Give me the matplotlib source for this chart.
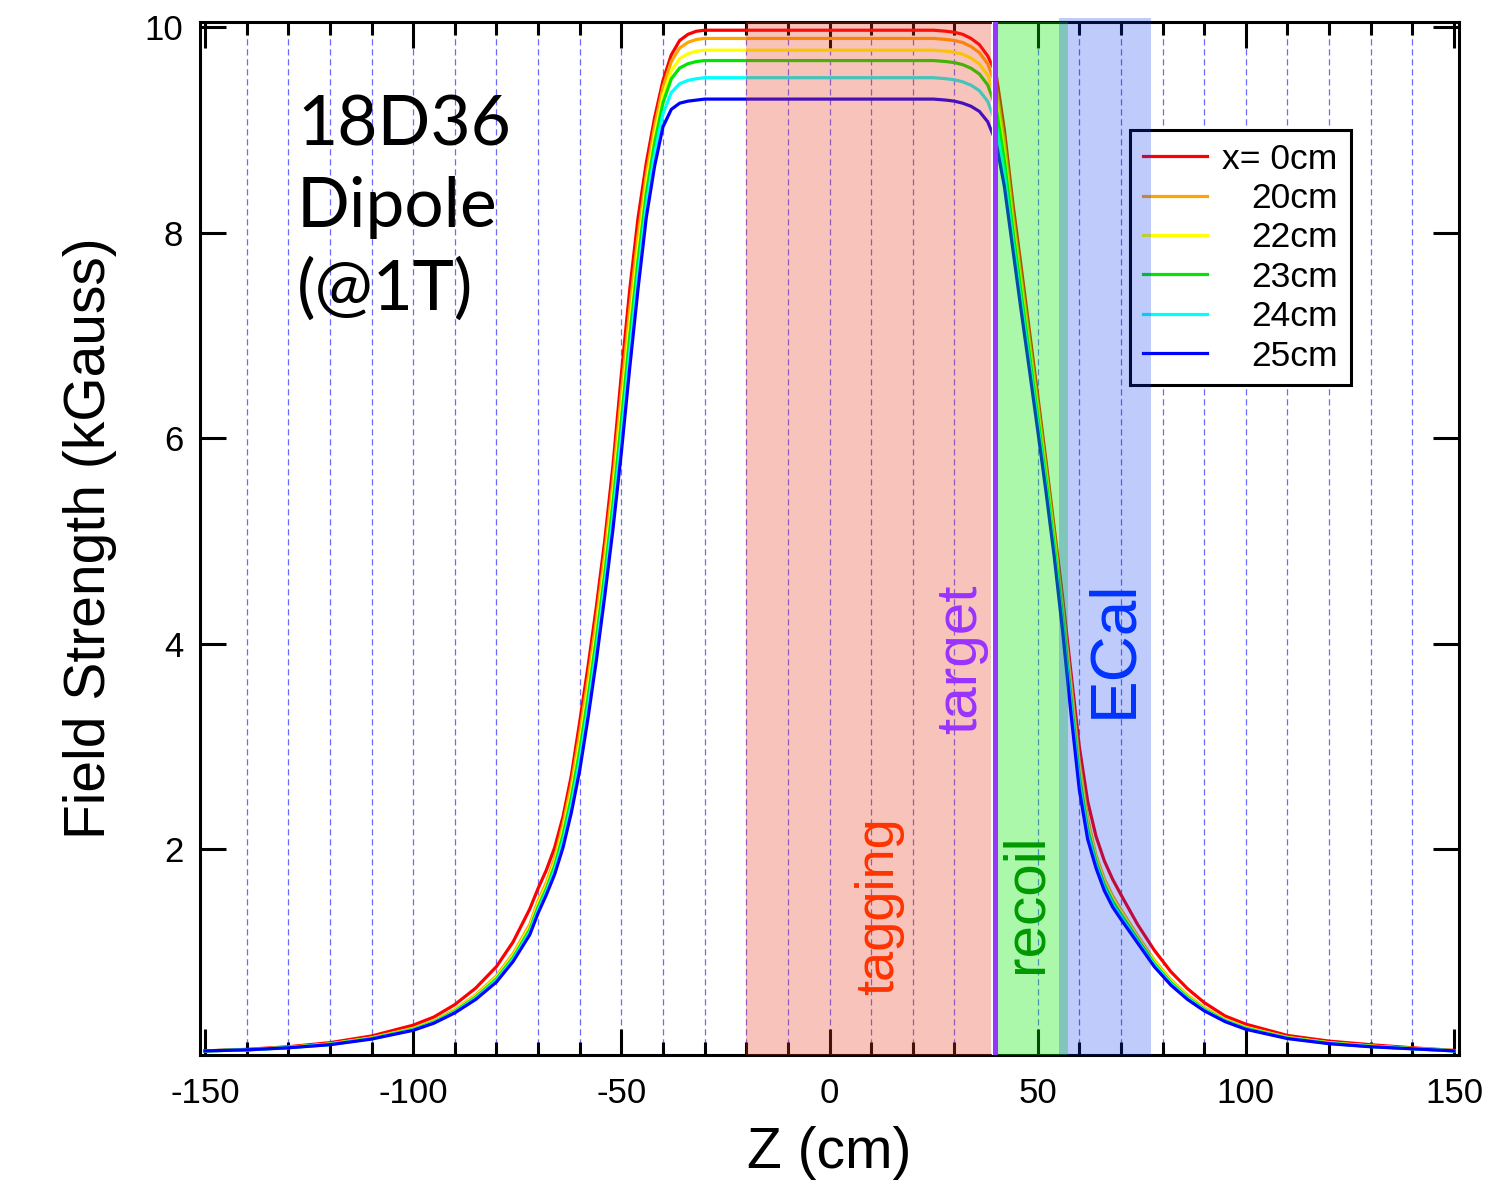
import matplotlib
matplotlib.use("Agg")
import matplotlib.pyplot as plt
from matplotlib.ticker import MultipleLocator, FixedLocator, NullLocator

plt.rcParams['font.family'] = ['Liberation Sans', 'DejaVu Sans']
plt.rcParams['axes.unicode_minus'] = False

# Longitudinal position along the beam line (cm)
z_cm = [-150, -140, -130, -120, -110, -100, -95, -90, -85, -80,
        -76, -72, -70, -68, -66, -64, -62, -60, -58, -56,
        -54, -52, -50, -48, -46, -44, -42, -40, -38, -36,
        -34, -32, -30, -25, -20, -10, 0, 10, 20, 25,
        28, 30, 32, 34, 36, 38, 40, 42, 44, 46,
        48, 50, 52, 54, 56, 58, 60, 62, 64, 66,
        68, 70, 74, 78, 82, 86, 90, 95, 100, 110,
        120, 130, 140, 150]

# Field strength (kGauss) at several transverse offsets x
field_x0 = [0.04, 0.055, 0.08, 0.12, 0.185, 0.29, 0.37, 0.49, 0.65, 0.86,
            1.10, 1.42, 1.62, 1.80, 2.02, 2.32, 2.72, 3.24, 3.78, 4.36,
            5.00, 5.74, 6.62, 7.44, 8.14, 8.68, 9.12, 9.48, 9.73, 9.87,
            9.93, 9.96, 9.97, 9.97, 9.97, 9.97, 9.97, 9.97, 9.97, 9.97,
            9.96, 9.95, 9.93, 9.89, 9.83, 9.72, 9.55, 9.00, 8.30, 7.68,
            7.05, 6.42, 5.78, 5.12, 4.45, 3.72, 3.00, 2.47, 2.13, 1.89,
            1.71, 1.56, 1.27, 1.02, 0.81, 0.645, 0.51, 0.38, 0.30, 0.19,
            0.135, 0.10, 0.07, 0.045]
field_x20 = [0.04, 0.05, 0.074, 0.108, 0.167, 0.26, 0.334, 0.442, 0.584, 0.77,
             0.986, 1.27, 1.50, 1.68, 1.916, 2.245, 2.63, 3.123, 3.655, 4.23,
             4.865, 5.585, 6.43, 7.25, 7.968, 8.563, 9.035, 9.413, 9.666, 9.797,
             9.852, 9.88, 9.89, 9.89, 9.89, 9.89, 9.89, 9.89, 9.89, 9.89,
             9.88, 9.87, 9.85, 9.811, 9.752, 9.643, 9.429, 8.879, 8.188, 7.573,
             6.955, 6.335, 5.705, 5.05, 4.368, 3.62, 2.853, 2.304, 1.944, 1.716,
             1.548, 1.416, 1.162, 0.924, 0.732, 0.582, 0.462, 0.347, 0.27, 0.172,
             0.12, 0.088, 0.064, 0.042]
field_x22 = [0.04, 0.05, 0.073, 0.106, 0.164, 0.255, 0.328, 0.434, 0.573, 0.755,
             0.967, 1.245, 1.469, 1.649, 1.877, 2.185, 2.558, 3.029, 3.555, 4.126,
             4.757, 5.461, 6.278, 7.098, 7.83, 8.468, 8.951, 9.332, 9.576, 9.693,
             9.742, 9.766, 9.776, 9.776, 9.776, 9.776, 9.776, 9.776, 9.776, 9.776,
             9.766, 9.756, 9.736, 9.699, 9.642, 9.534, 9.322, 8.78, 8.098, 7.487,
             6.879, 6.267, 5.645, 4.994, 4.302, 3.54, 2.782, 2.248, 1.913, 1.687,
             1.521, 1.392, 1.144, 0.908, 0.719, 0.572, 0.454, 0.342, 0.265, 0.169,
             0.118, 0.086, 0.063, 0.042]
field_x23 = [0.04, 0.05, 0.072, 0.104, 0.161, 0.25, 0.322, 0.426, 0.562, 0.74,
             0.948, 1.22, 1.44, 1.62, 1.843, 2.14, 2.504, 2.958, 3.48, 4.048,
             4.676, 5.368, 6.164, 6.984, 7.726, 8.383, 8.876, 9.264, 9.497, 9.602,
             9.644, 9.665, 9.675, 9.675, 9.675, 9.675, 9.675, 9.675, 9.675, 9.675,
             9.665, 9.655, 9.635, 9.60, 9.544, 9.438, 9.215, 8.698, 8.03, 7.422,
             6.822, 6.216, 5.60, 4.952, 4.252, 3.48, 2.719, 2.20, 1.882, 1.658,
             1.494, 1.368, 1.126, 0.892, 0.706, 0.561, 0.446, 0.336, 0.26, 0.166,
             0.115, 0.084, 0.062, 0.041]
field_x24 = [0.04, 0.05, 0.071, 0.102, 0.158, 0.245, 0.316, 0.418, 0.551, 0.725,
             0.929, 1.195, 1.409, 1.589, 1.802, 2.08, 2.432, 2.864, 3.38, 3.944,
             4.568, 5.244, 6.012, 6.832, 7.588, 8.267, 8.768, 9.156, 9.364, 9.449,
             9.482, 9.498, 9.508, 9.508, 9.508, 9.508, 9.508, 9.508, 9.508, 9.508,
             9.498, 9.488, 9.468, 9.435, 9.382, 9.278, 9.061, 8.577, 7.94, 7.336,
             6.746, 6.148, 5.54, 4.896, 4.186, 3.40, 2.651, 2.152, 1.851, 1.629,
             1.467, 1.344, 1.108, 0.876, 0.693, 0.551, 0.438, 0.331, 0.255, 0.163,
             0.113, 0.082, 0.061, 0.04]
field_x25 = [0.04, 0.05, 0.07, 0.10, 0.155, 0.24, 0.31, 0.41, 0.54, 0.71,
             0.91, 1.17, 1.38, 1.56, 1.76, 2.02, 2.36, 2.77, 3.28, 3.84,
             4.46, 5.12, 5.86, 6.68, 7.45, 8.15, 8.65, 9.03, 9.20, 9.26,
             9.28, 9.29, 9.30, 9.30, 9.30, 9.30, 9.30, 9.30, 9.30, 9.30,
             9.29, 9.28, 9.26, 9.23, 9.18, 9.08, 8.88, 8.45, 7.85, 7.25,
             6.67, 6.08, 5.48, 4.84, 4.12, 3.32, 2.58, 2.10, 1.82, 1.60,
             1.44, 1.32, 1.09, 0.86, 0.68, 0.54, 0.43, 0.325, 0.25, 0.16,
             0.11, 0.08, 0.06, 0.04]

series = [field_x0, field_x20, field_x22, field_x23, field_x24, field_x25]
series_labels = ['x= 0cm', '20cm', '22cm', '23cm', '24cm', '25cm']
series_colors = ['#ff0000', '#ffa500', '#ffff00', '#00e600', '#00ffff', '#0000ff']

# Detector regions along z (cm)
tagging_range = (-20.0, 38.8)
target_z = 39.7
recoil_range = (40.2, 57.3)
ecal_range = (55.1, 77.2)

fig = plt.figure(figsize=(15.07, 11.80), dpi=100)
ax = fig.add_axes([200 / 1507, 1 - 1055 / 1180, 1259 / 1507, 1033 / 1180])

# dashed guide lines every 10 cm
grid_z = list(range(-140, 141, 10))
ax.vlines(grid_z, 0, 1, transform=ax.get_xaxis_transform(),
          colors='#6a6aff', linewidths=0.9, linestyles=(0, (5, 3)), zorder=1)

for vals, lab, col in zip(series, series_labels, series_colors):
    ax.plot(z_cm, vals, color=col, lw=2.3, label=lab, zorder=2,
            solid_joinstyle='round')

# shaded detector regions (drawn over the curves)
ax.axvspan(*tagging_range, color=(235 / 255, 58 / 255, 28 / 255), alpha=0.30,
           lw=0, zorder=6)
ax.axvspan(*recoil_range, color=(0, 235 / 255, 0), alpha=0.33, lw=0, zorder=6)
ax.axvspan(*ecal_range, ymin=0, ymax=1.004, color=(0, 50 / 255, 240 / 255),
           alpha=0.25, lw=0, zorder=6, clip_on=False)
ax.axvline(tagging_range[1] + 0.2, color='white', lw=1.0, zorder=7)
ax.axvline(target_z, color='#9933ff', lw=3.6, zorder=7)

# region labels
ax.text(12.0, 1.45, 'tagging', rotation=90, color='#ff3300', fontsize=39,
        ha='center', va='center', zorder=8)
ax.text(31.6, 3.85, 'target', rotation=90, color='#9933ff', fontsize=42,
        ha='center', va='center', zorder=8)
ax.text(47.2, 1.48, 'recoil', rotation=90, color='#009900', fontsize=42,
        ha='center', va='center', zorder=8)
ax.text(68.3, 3.95, 'ECal', rotation=90, color='#0033ff', fontsize=46,
        ha='center', va='center', zorder=8)

ax.text(0.077, 0.930, '18D36\nDipole\n(@1T)', transform=ax.transAxes,
        fontsize=50, family=['Lato', 'DejaVu Sans'], ha='left', va='top',
        linespacing=1.36, zorder=8)

ax.set_xlim(-151.2, 151.2)
ax.set_ylim(0, 10.05)
ax.xaxis.set_major_locator(MultipleLocator(50))
ax.xaxis.set_minor_locator(MultipleLocator(10))
ax.yaxis.set_major_locator(FixedLocator([2, 4, 6, 8, 10]))
ax.yaxis.set_minor_locator(NullLocator())
ax.tick_params(which='both', direction='in', top=True, right=True,
               width=2.2, labelsize=25, color='black')
ax.tick_params(axis='x', which='both', pad=16)
ax.tick_params(axis='y', which='both', pad=12)
ax.tick_params(which='major', length=19)
ax.tick_params(which='minor', length=9.5)
for sp in ax.spines.values():
    sp.set_linewidth(2.2)

ax.set_xlabel('Z (cm)', fontsize=41, labelpad=11)
ax.set_ylabel('Field Strength (kGauss)', fontsize=41, labelpad=20)

leg = ax.legend(loc='upper left', bbox_to_anchor=(0.7387, 0.8955),
                borderaxespad=0, fontsize=25.5, frameon=True, fancybox=False,
                edgecolor='black', framealpha=1, handlelength=1.8,
                handletextpad=0.45, labelspacing=0.18, borderpad=0.36)
leg.get_frame().set_linewidth(2.2)
leg.set_zorder(5)

# right-align the legend labels
fig.canvas.draw()
renderer = fig.canvas.get_renderer()
texts = leg.get_texts()
widths = [t.get_window_extent(renderer).width for t in texts]
wmax = max(widths)
for t, w in zip(texts, widths):
    t.set_position((wmax - w, 0))

fig.savefig('out.png', dpi=100)
